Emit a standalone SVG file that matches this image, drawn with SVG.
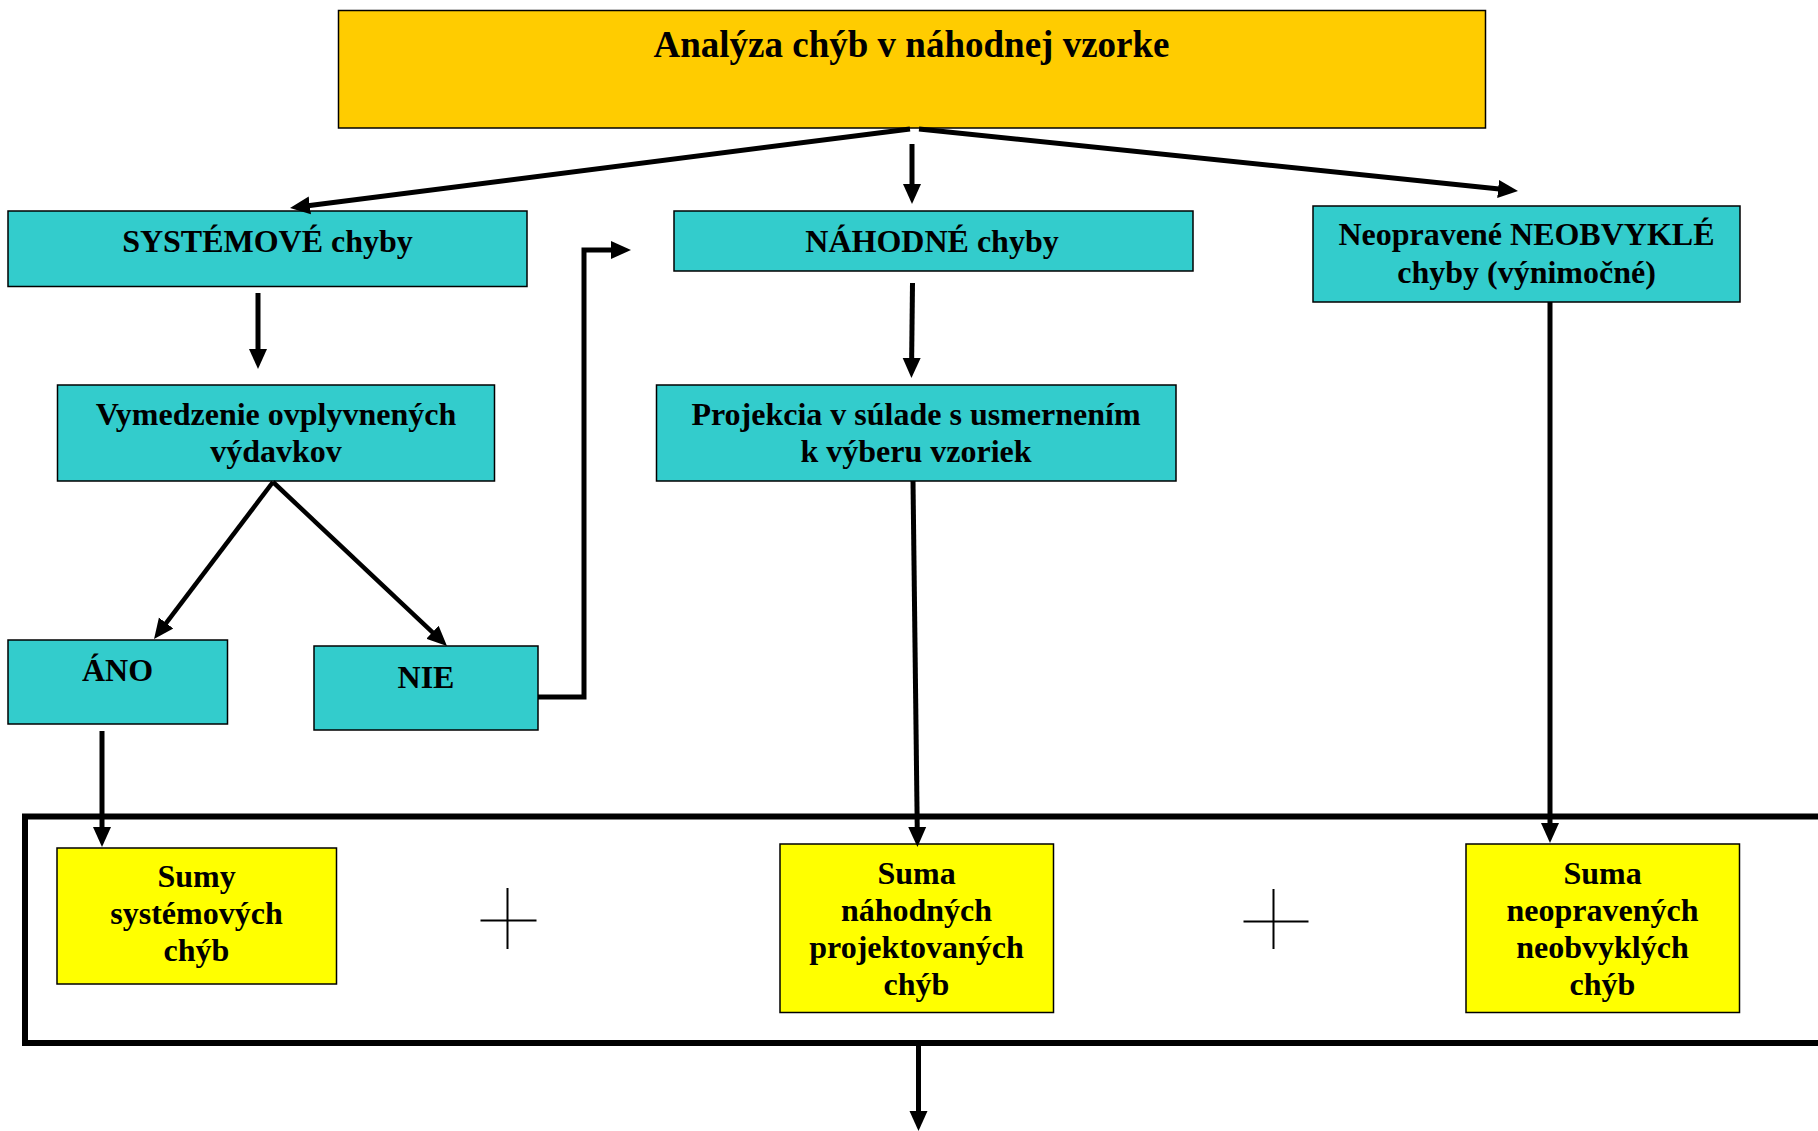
<svg xmlns="http://www.w3.org/2000/svg" width="1818" height="1131" viewBox="0 0 1818 1131">
<style>
text{font-family:"Liberation Serif","Times New Roman",serif;font-weight:bold;fill:#000;text-anchor:middle;font-size:32px}
.t{font-size:37px}
.box{stroke:#000;stroke-width:1.5}
.teal{fill:#33CCCC}
.yel{fill:#FFFF00}
.org{fill:#FFCC00}
.c{fill:none;stroke:#000;stroke-width:5}
.thin{fill:none;stroke:#000;stroke-width:4.5}
.plus{stroke:#000;stroke-width:2;fill:none}
</style>
<defs>
<marker id="ah" viewBox="0 0 20 20" refX="6" refY="10" markerWidth="20" markerHeight="20" markerUnits="userSpaceOnUse" orient="auto">
<path d="M0,1 L20,10 L0,19 Z" fill="#000"/>
</marker>
</defs>
<rect width="1818" height="1131" fill="#fff"/>

<g id="container">
<rect x="25" y="816.5" width="1850" height="226.5" fill="none" stroke="#000" stroke-width="6"/>
</g>

<g id="title">
<rect class="box org" x="338.5" y="10.5" width="1147" height="117.5"/>
<text class="t" x="911.5" y="57">Analýza chýb v náhodnej vzorke</text>
</g>

<g id="systemove">
<rect class="box teal" x="8" y="211" width="519" height="75.5"/>
<text x="267.5" y="252">SYSTÉMOVÉ chyby</text>
</g>

<g id="nahodne">
<rect class="box teal" x="674" y="211" width="519" height="60"/>
<text x="932" y="252">NÁHODNÉ chyby</text>
</g>

<g id="neopravene">
<rect class="box teal" x="1313" y="206" width="427" height="96"/>
<text x="1526.5" y="245">Neopravené NEOBVYKLÉ</text>
<text x="1526.5" y="283">chyby (výnimočné)</text>
</g>

<g id="vymedzenie">
<rect class="box teal" x="57.5" y="385" width="437" height="96"/>
<text x="276" y="425">Vymedzenie ovplyvnených</text>
<text x="276" y="462">výdavkov</text>
</g>

<g id="projekcia">
<rect class="box teal" x="656.5" y="385" width="519.5" height="96"/>
<text x="916" y="425">Projekcia v súlade s usmernením</text>
<text x="916" y="462">k výberu vzoriek</text>
</g>

<g id="ano">
<rect class="box teal" x="8" y="640" width="219.5" height="84"/>
<text x="117.5" y="681">ÁNO</text>
</g>

<g id="nie">
<rect class="box teal" x="314" y="646" width="224" height="84"/>
<text x="426" y="687.5">NIE</text>
</g>

<g id="sumy-systemovych">
<rect class="box yel" x="57" y="848" width="279.5" height="136"/>
<text x="196.5" y="887">Sumy</text>
<text x="196.5" y="924">systémových</text>
<text x="196.5" y="961">chýb</text>
</g>

<g id="suma-nahodnych">
<rect class="box yel" x="780" y="844" width="273.5" height="168.5"/>
<text x="916.5" y="883.5">Suma</text>
<text x="916.5" y="920.5">náhodných</text>
<text x="916.5" y="957.5">projektovaných</text>
<text x="916.5" y="994.5">chýb</text>
</g>

<g id="suma-neopravenych">
<rect class="box yel" x="1466" y="844" width="273.5" height="168.5"/>
<text x="1602.5" y="883.5">Suma</text>
<text x="1602.5" y="920.5">neopravených</text>
<text x="1602.5" y="957.5">neobvyklých</text>
<text x="1602.5" y="994.5">chýb</text>
</g>

<g id="plus-signs">
<path class="plus" d="M507.5,888 V949 M480.5,920.5 H536.5"/>
<path class="plus" d="M1273.5,889 V949 M1243.5,921.5 H1308.5"/>
</g>

<g id="connectors">
<path class="c" d="M910,129 L303.9,206.2" marker-end="url(#ah)"/>
<path class="c" d="M912,144 L912,190" marker-end="url(#ah)"/>
<path class="c" d="M919,129 L1504.1,189.6" marker-end="url(#ah)"/>
<path class="c" d="M258,293 L258,355" marker-end="url(#ah)"/>
<path class="c" d="M912.5,283 L911.6,364" marker-end="url(#ah)"/>
<path class="thin" d="M273,482 L162.5,627.8" marker-end="url(#ah)"/>
<path class="thin" d="M273,482 L436.8,636.4" marker-end="url(#ah)"/>
<path class="c" d="M538,697 H584 V250 H617" marker-end="url(#ah)"/>
<path class="c" d="M102,731 V833" marker-end="url(#ah)"/>
<path class="c" d="M913,481 L917.3,833" marker-end="url(#ah)"/>
<path class="c" d="M1550,302 V829" marker-end="url(#ah)"/>
<path class="c" d="M918.5,1046 V1117" marker-end="url(#ah)"/>
</g>
</svg>
